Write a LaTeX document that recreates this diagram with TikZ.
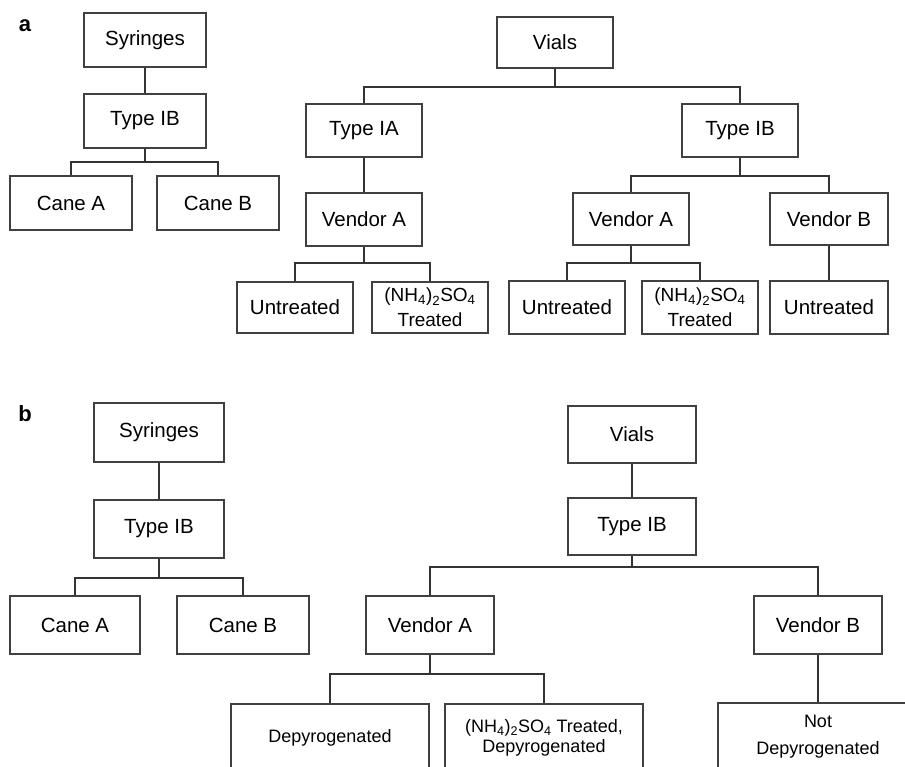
\documentclass[tikz,border=0pt]{standalone}
\usepackage{fontspec}
\setmainfont{Liberation Sans}
\begin{document}
\begin{tikzpicture}[x=1pt,y=-1pt,
  box/.style={draw=black!75, line width=2pt, fill=white, inner sep=0pt, align=center,
    font=\fontsize{20.5}{24}\selectfont, text=black},
  sz/.style 2 args={minimum width=#1pt, minimum height=#2pt},
  small/.style={font=\fontsize{18}{20}\selectfont},
  link/.style={draw=black!80, line width=2pt},
  plabel/.style={font=\fontsize{22}{22}\selectfont\bfseries, inner sep=0pt}
  ]
\useasboundingbox (0,0) rectangle (905,766);
\clip (0,0) rectangle (905,766);

% ---------- panel a ----------
\node[plabel] (la) at (25,26) {a};
\node[box, sz={122}{54}] (asyr) at (145,40) {Syringes};
\node[box, sz={122}{54}] (atib) at (145,121) {Type IB};
\node[box, sz={122}{54}] (acA) at (71,203) {Cane A};
\node[box, sz={122}{54}] (acB) at (218,203) {Cane B};
\coordinate (ja1) at (145,162);
\draw[link] (asyr) -- (atib);
\draw[link] (atib.south) -- (ja1);
\draw[link] (acA.north) |- (ja1) -| (acB.north);

\node[box, sz={116}{51}] (avials) at (555,42.5) {Vials};
\node[box, sz={116}{53}] (atIA) at (364,130.5) {Type IA};
\node[box, sz={116}{53}] (atIB) at (740,130.5) {Type IB};
\coordinate (ja2) at (555,87);
\draw[link] (avials.south) -- (ja2);
\draw[link] (atIA.north) |- (ja2) -| (atIB.north);

\node[box, sz={116}{53}] (avA1) at (364,219.5) {Vendor A};
\draw[link] (atIA) -- (avA1);
\node[box, sz={116}{51}] (au1) at (295,307.5) {Untreated};
\node[box, sz={116}{51}, font=\fontsize{19}{25}\selectfont] (an1) at (430,307.5) {(NH\textsubscript{4})\textsubscript{2}SO\textsubscript{4}\\Treated};
\coordinate (ja3) at (364,263);
\draw[link] (avA1.south) -- (ja3);
\draw[link] (au1.north) |- (ja3) -| (an1.north);

\node[box, sz={116}{52}] (avA2) at (631,219) {Vendor A};
\node[box, sz={118}{52}] (avB) at (829,219) {Vendor B};
\coordinate (ja4) at (740,176);
\draw[link] (atIB.south) -- (ja4);
\draw[link] (avA2.north) |- (ja4) -| (avB.north);

\node[box, sz={116}{53}] (au2) at (567,307.5) {Untreated};
\node[box, sz={116}{53}, font=\fontsize{19}{25}\selectfont] (an2) at (700,307.5) {(NH\textsubscript{4})\textsubscript{2}SO\textsubscript{4}\\Treated};
\coordinate (ja5) at (631,263);
\draw[link] (avA2.south) -- (ja5);
\draw[link] (au2.north) |- (ja5) -| (an2.north);

\node[box, sz={118}{53}] (au3) at (829,307.5) {Untreated};
\draw[link] (avB) -- (au3);

% ---------- panel b ----------
\node[plabel] (lb) at (25,414) {b};
\node[box, sz={130}{59}] (bsyr) at (159,432.5) {Syringes};
\node[box, sz={130}{58}] (btib) at (159,529) {Type IB};
\draw[link] (bsyr) -- (btib);
\node[box, sz={130}{58}] (bcA) at (75,625) {Cane A};
\node[box, sz={132}{58}] (bcB) at (243,625) {Cane B};
\coordinate (jb1) at (159,578);
\draw[link] (btib.south) -- (jb1);
\draw[link] (bcA.north) |- (jb1) -| (bcB.north);

\node[box, sz={128}{57}] (bvials) at (632,434.5) {Vials};
\node[box, sz={128}{57}] (btib2) at (632,526.5) {Type IB};
\draw[link] (bvials) -- (btib2);
\node[box, sz={128}{58}] (bvA) at (430,625) {Vendor A};
\node[box, sz={128}{58}] (bvB) at (818,625) {Vendor B};
\coordinate (jb2) at (632,567);
\draw[link] (btib2.south) -- (jb2);
\draw[link] (bvA.north) |- (jb2) -| (bvB.north);

\node[box, small, sz={198}{68}] (bdep) at (330,738) {Depyrogenated};
\node[box, small, sz={198}{68}] (bnd) at (544,738) {(NH\textsubscript{4})\textsubscript{2}SO\textsubscript{4} Treated,\\Depyrogenated};
\coordinate (jb3) at (430,674);
\draw[link] (bvA.south) -- (jb3);
\draw[link] (bdep.north) |- (jb3) -| (bnd.north);

\node[box, sz={200}{68}, font=\fontsize{18}{27}\selectfont] (bnot) at (818,737) {Not\\Depyrogenated};
\draw[link] (bvB) -- (bnot);
\end{tikzpicture}
\end{document}
